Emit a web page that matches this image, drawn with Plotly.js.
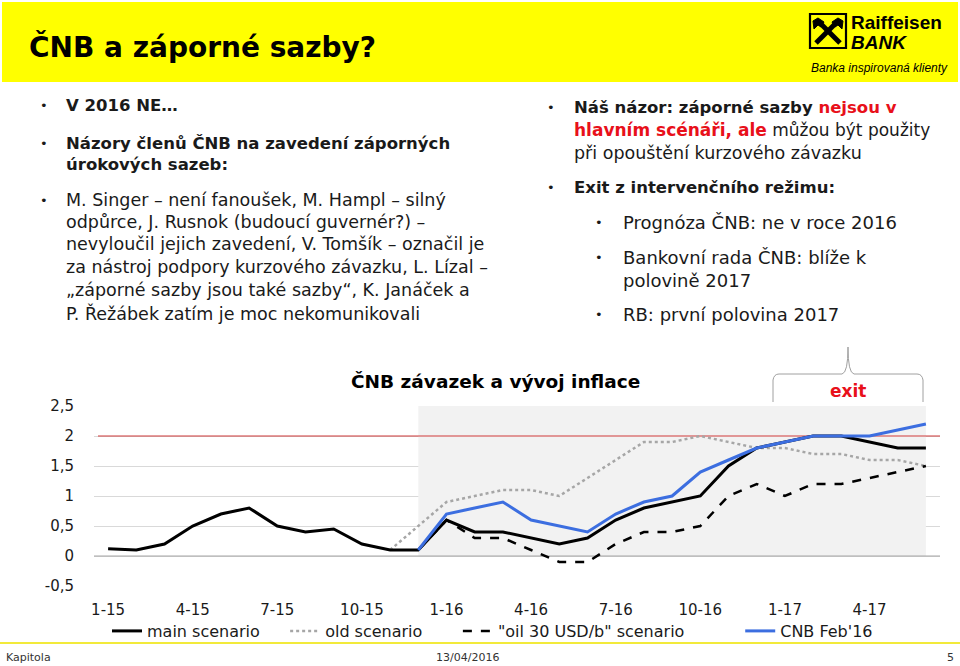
<!DOCTYPE html>
<html>
<head>
<meta charset="utf-8">
<script src="https://cdn.plot.ly/plotly-3.0.1.min.js"></script>
<style>
html,body{margin:0;padding:0;background:#fff;}
#chart{width:960px;height:666px;}
</style>
</head>
<body>
<div id="chart"></div>
<script>
// ---------- data ----------
const months = ["1-15","2-15","3-15","4-15","5-15","6-15","7-15","8-15","9-15","10-15","11-15","12-15",
                "1-16","2-16","3-16","4-16","5-16","6-16","7-16","8-16","9-16","10-16","11-16","12-16",
                "1-17","2-17","3-17","4-17","5-17","6-17"];
const tickLabels = ["1-15","4-15","7-15","10-15","1-16","4-16","7-16","10-16","1-17","4-17"];
const mainScenario = [0.12,0.1,0.2,0.5,0.7,0.8,0.5,0.4,0.45,0.2,0.1,0.1,
                      0.6,0.4,0.4,0.3,0.2,0.3,0.6,0.8,0.9,1.0,1.5,1.8,
                      1.9,2.0,2.0,1.9,1.8,1.8];
const oldScenario = [null,null,null,null,null,null,null,null,null,null,0.1,0.5,
                     0.9,1.0,1.1,1.1,1.0,1.3,1.6,1.9,1.9,2.0,1.9,1.8,
                     1.8,1.7,1.7,1.6,1.6,1.5];
const oilScenario = [null,null,null,null,null,null,null,null,null,null,null,0.1,
                     0.6,0.3,0.3,0.1,-0.1,-0.1,0.2,0.4,0.4,0.5,1.0,1.2,
                     1.0,1.2,1.2,1.3,1.4,1.5];
const cnbFeb16 = [null,null,null,null,null,null,null,null,null,null,null,0.1,
                  0.7,0.8,0.9,0.6,0.5,0.4,0.7,0.9,1.0,1.4,1.6,1.8,
                  1.9,2.0,2.0,2.0,2.1,2.2];
const inflationTarget = 2;
const yTicks = [-0.5,0,0.5,1,1.5,2,2.5];
const yTickText = ["-0,5","0","0,5","1","1,5","2","2,5"];
const seriesNames = ["main scenario","old scenario","\"oil 30 USD/b\" scenario","CNB Feb'16"];
const shadeFrom = "12-15", shadeTo = "6-17";

// ---------- geometry helpers (pixel -> paper) ----------
const L = 94, R = 940, T = 406, B = 586;
const PW = R - L, PH = B - T;
const X = px => (px - L) / PW;
const Y = py => (B - py) / PH;
const xIdx = px => (px - L) / PW * months.length - 0.5;   // pixel -> category index

const FONT = "DejaVu Sans";
const RED = "#e8101a";
const TXT = "#1a1a1a";
const pad = n => "\u00a0".repeat(n);

// ---------- traces ----------
const traces = [
  {x: months, y: oldScenario, name: seriesNames[1] + pad(6), mode: "lines", legendrank: 2,
   line: {color: "#a6a6a6", width: 2.5, dash: "dot"}},
  {x: months, y: oilScenario, name: seriesNames[2] + pad(10), mode: "lines", legendrank: 3,
   line: {color: "#000000", width: 2.5, dash: "dash"}},
  {x: months, y: mainScenario, name: seriesNames[0] + pad(4), mode: "lines", legendrank: 1,
   line: {color: "#000000", width: 3}},
  {x: months, y: cnbFeb16, name: seriesNames[3], mode: "lines", legendrank: 4,
   line: {color: "#3c6ee0", width: 3}}
];

// ---------- annotations ----------
const anns = [];
function txt(text, px, py, size, opts) {
  opts = opts || {};
  anns.push(Object.assign({
    text: text, xref: "paper", yref: "paper", x: X(px), y: Y(py),
    xanchor: "left", yanchor: "middle", showarrow: false,
    font: {family: FONT, size: size, color: TXT}
  }, opts));
}
function bullet(px, py) { txt("•", px, py, 13); }

// header title
txt("<b>ČNB a záporné sazby?</b>", 27, 47, 28, {font: {family: FONT, size: 28, color: "#000"}});

// logo texts
txt("<b>Raiffeisen</b>", 849, 22, 19, {font: {family: "Liberation Sans", size: 19, color: "#000"}});
txt("<b><i>BANK</i></b>", 849, 42, 19, {font: {family: "Liberation Sans", size: 19, color: "#000"}});
txt("<i>Banka inspirovaná klienty</i>", 809, 68, 12, {font: {family: "Liberation Sans", size: 12, color: "#000"}});

// left column
const leftLines = [
  ["<b>V 2016 NE…</b>", 105, true, 16.5],
  ["<b>Názory členů ČNB na zavedení záporných</b>", 143, true, 16.5],
  ["<b>úrokových sazeb:</b>", 165, false, 16.5],
  ["M. Singer – není fanoušek, M. Hampl – silný", 200, true, 17.5],
  ["odpůrce, J. Rusnok (budoucí guvernér?) –", 222, false, 17.5],
  ["nevyloučil jejich zavedení, V. Tomšík – označil je", 244, false, 17.5],
  ["za nástroj podpory kurzového závazku, L. Lízal –", 267, false, 17.5],
  ["„záporné sazby jsou také sazby“, K. Janáček a", 290, false, 17.5],
  ["P. Řežábek zatím je moc nekomunikovali", 313, false, 17.5]
];
leftLines.forEach(l => { if (l[2]) bullet(38, l[1]); txt(l[0], 64, l[1], l[3]); });

// right column
const rightLines = [
  ['<b>Náš názor: záporné sazby <span style="color:' + RED + '">nejsou v</span></b>', 107, 549, 572, true, 16.5],
  ['<b><span style="color:' + RED + '">hlavním scénáři, ale</span></b> můžou být použity', 130, 549, 572, false, 17],
  ["při opouštění kurzového závazku", 153, 549, 572, false, 17.5],
  ["<b>Exit z intervenčního režimu:</b>", 188, 549, 572, true, 16.5],
  ["Prognóza ČNB: ne v roce 2016", 222, 597, 621, true, 18],
  ["Bankovní rada ČNB: blíže k", 257, 597, 621, true, 18],
  ["polovině 2017", 280, 597, 621, false, 18],
  ["RB: první polovina 2017", 314, 597, 621, true, 18]
];
rightLines.forEach(l => { if (l[4]) bullet(l[2] - 4, l[1]); txt(l[0], l[3], l[1], l[5]); });

// chart title and exit label
txt("<b>ČNB závazek a vývoj inflace</b>", 495, 381, 18.5, {xanchor: "center", font: {family: FONT, size: 18.5, color: "#000"}});
txt("<b>exit</b>", 848, 391, 17, {xanchor: "center", font: {family: FONT, size: 17, color: RED}});

// footer
txt("Kapitola", 4, 657, 11, {font: {family: FONT, size: 11, color: "#333"}});
txt("13/04/2016", 467, 657, 11, {xanchor: "center", font: {family: FONT, size: 11, color: "#333"}});
txt("5", 956, 657, 11, {xanchor: "right", font: {family: FONT, size: 11, color: "#333"}});

// ---------- shapes ----------
function pathPx(pts, close) {
  return pts.map((p, i) => (i === 0 ? "M" : "L") + X(p[0]).toFixed(5) + "," + Y(p[1]).toFixed(5)).join(" ") + (close ? " Z" : "");
}
const shapes = [
  // header band
  {type: "rect", xref: "paper", yref: "paper", x0: X(2), x1: X(958), y0: Y(2), y1: Y(82),
   fillcolor: "#ffff00", line: {width: 0}, layer: "below"},
  // footer line
  {type: "line", xref: "paper", yref: "paper", x0: X(0), x1: X(960), y0: Y(643), y1: Y(643),
   line: {color: "#f2ea3a", width: 2}},
  // shaded forecast area
  {type: "rect", xref: "x", yref: "y", x0: shadeFrom, x1: shadeTo, y0: 0, y1: 2.5,
   fillcolor: "#f2f2f2", line: {width: 0}, layer: "between"},
  // zero line
  {type: "line", xref: "x", yref: "y", x0: -0.5, x1: months.length - 0.5, y0: 0, y1: 0,
   line: {color: "#a6a6a6", width: 1}, layer: "between"},
  // inflation target
  {type: "line", xref: "x", yref: "y", x0: xIdx(98), x1: months.length - 0.5, y0: inflationTarget, y1: inflationTarget,
   line: {color: "#d03a3a", width: 1.2}, layer: "between"},
  // exit brace
  {type: "path", xref: "paper", yref: "paper",
   path: "M" + X(773) + "," + Y(402) + " L" + X(773) + "," + Y(380) +
         " Q" + X(774) + "," + Y(374) + " " + X(779) + "," + Y(374) +
         " L" + X(842) + "," + Y(374) +
         " Q" + X(848) + "," + Y(373) + " " + X(848) + "," + Y(347) +
         " Q" + X(848) + "," + Y(373) + " " + X(854) + "," + Y(374) +
         " L" + X(917) + "," + Y(374) +
         " Q" + X(922) + "," + Y(374) + " " + X(923) + "," + Y(380) +
         " L" + X(923) + "," + Y(402),
   line: {color: "#a0a0a0", width: 1}},
  // logo square
  {type: "rect", xref: "paper", yref: "paper", x0: X(810), x1: X(846), y0: Y(14), y1: Y(48),
   fillcolor: "rgba(0,0,0,0)", line: {color: "#000", width: 2.2}},
  // logo crossed gables
  {type: "line", xref: "paper", yref: "paper", x0: X(816), y0: Y(43), x1: X(836), y1: Y(23),
   line: {color: "#000", width: 5}},
  {type: "line", xref: "paper", yref: "paper", x0: X(840), y0: Y(43), x1: X(820), y1: Y(23),
   line: {color: "#000", width: 5}},
  {type: "path", xref: "paper", yref: "paper",
   path: pathPx([[832,22],[838,18],[843,21],[842,29],[838,25],[835,27]], true),
   fillcolor: "#000", line: {color: "#000", width: 1}},
  {type: "path", xref: "paper", yref: "paper",
   path: pathPx([[824,22],[818,18],[813,21],[814,29],[818,25],[821,27]], true),
   fillcolor: "#000", line: {color: "#000", width: 1}}
];

// ---------- layout ----------
const layout = {
  width: 960, height: 666,
  margin: {l: L, r: 960 - R, t: T, b: 666 - B, pad: 0},
  paper_bgcolor: "#ffffff", plot_bgcolor: "#ffffff",
  separators: ", ",
  font: {family: FONT, color: TXT},
  showlegend: true,
  legend: {orientation: "h", x: X(107), xanchor: "left", y: Y(631), yanchor: "middle",
           font: {family: FONT, size: 16, color: TXT}, bgcolor: "rgba(0,0,0,0)",
           itemwidth: 30, tracegroupgap: 0},
  xaxis: {type: "category", categoryorder: "array", categoryarray: months,
          range: [-0.5, months.length - 0.5], tickmode: "array", tickvals: tickLabels, ticktext: tickLabels,
          showgrid: false, zeroline: false, showline: false,
          ticks: "outside", ticklen: 10, tickcolor: "rgba(0,0,0,0)",
          tickfont: {family: FONT, size: 15, color: TXT}, fixedrange: true},
  yaxis: {range: [-0.5, 2.5], tickmode: "array", tickvals: yTicks, ticktext: yTickText,
          showgrid: true, gridcolor: "#d9d9d9", gridwidth: 1, zeroline: false, showline: false,
          ticks: "outside", ticklen: 16, tickcolor: "rgba(0,0,0,0)",
          tickfont: {family: FONT, size: 15, color: TXT}, fixedrange: true},
  shapes: shapes,
  annotations: anns
};

Plotly.newPlot("chart", traces, layout, {displayModeBar: false, staticPlot: true});
</script>
</body>
</html>
